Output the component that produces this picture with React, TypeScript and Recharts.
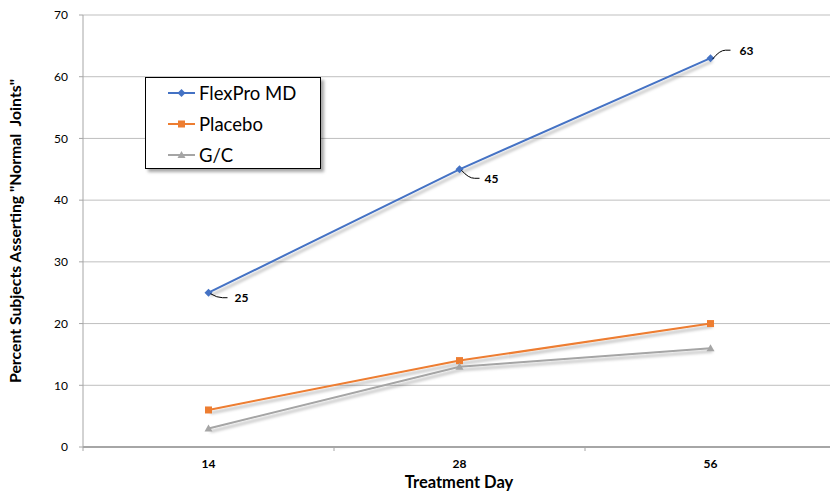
import { LineChart, Line, XAxis, YAxis, CartesianGrid, LabelList } from 'recharts';

const categories = ['14', '28', '56'];
const flexPro = [25, 45, 63];
const placebo = [6, 14, 20];
const gc = [3, 13, 16];
const yTicks = [0, 10, 20, 30, 40, 50, 60, 70];

const seriesNames = ['FlexPro MD', 'Placebo', 'G/C'];
const seriesColors = ['#4472C4', '#ED7D31', '#A5A5A5'];
const seriesShapes = ['diamond', 'square', 'triangle'];

const data = categories.map((day, i) => ({
  pos: i + 0.5,
  day,
  flexPro: flexPro[i],
  placebo: placebo[i],
  gc: gc[i],
}));

const FONT = 'Lato, "Open Sans", sans-serif';

function Marker({ cx, cy, shape, color }: any) {
  if (cx == null || cy == null) return null;
  if (shape === 'diamond') {
    return <path d={`M${cx},${cy - 4} L${cx + 4},${cy} L${cx},${cy + 4} L${cx - 4},${cy} Z`} fill={color} />;
  }
  if (shape === 'square') {
    return <rect x={cx - 3.5} y={cy - 3.5} width={7} height={7} fill={color} />;
  }
  return <path d={`M${cx},${cy - 4} L${cx + 4},${cy + 3} L${cx - 4},${cy + 3} Z`} fill={color} />;
}

// leader line + label offsets for the FlexPro callouts
const callouts = [
  { lx: 14, ly: 5, tx: 26, ty: 9 },
  { lx: 15, ly: 9, tx: 25, ty: 14 },
  { lx: 15, ly: -8, tx: 29, ty: -3 },
];

function Callout(props: any) {
  const { x, y, value, index } = props;
  const c = callouts[index];
  return (
    <g>
      <path
        d={`M${x + 2},${y + 1} Q${x + c.lx * 0.6},${y + c.ly} ${x + c.lx},${y + c.ly} L${x + c.lx + 5},${y + c.ly}`}
        stroke="#000"
        strokeWidth={1}
        fill="none"
      />
      <text x={x + c.tx} y={y + c.ty} fontFamily={FONT} fontSize={12} fontWeight={700} fill="#000">
        {value}
      </text>
    </g>
  );
}

function XTick(props: any) {
  const { x, payload } = props;
  const v = payload.value;
  const axisY = 447;
  if (Number.isInteger(v)) {
    return <line x1={x} y1={axisY} x2={x} y2={axisY + 4} stroke="#A6A6A6" />;
  }
  return (
    <text x={x} y={axisY + 21} textAnchor="middle" fontFamily={FONT} fontSize={12} fontWeight={700} fill="#000">
      {categories[Math.floor(v)]}
    </text>
  );
}

function YTitle(props: any) {
  const vb = props.viewBox || {};
  const cx = 21;
  const cy = (vb.y || 15) + (vb.height || 432) / 2;
  return (
    <text
      x={cx}
      y={cy}
      transform={`rotate(-90, ${cx}, ${cy})`}
      textAnchor="middle"
      fontFamily={FONT}
      fontSize={15.8}
      fontWeight={700}
      fill="#000"
    >
      Percent Subjects Asserting "Normal&nbsp; Joints"
    </text>
  );
}

function XTitle() {
  return (
    <text x={459} y={488} textAnchor="middle" fontFamily={FONT} fontSize={16.5} fontWeight={700} fill="#000">
      Treatment Day
    </text>
  );
}

function LegendBox() {
  return (
    <div
      style={{
        position: 'absolute',
        left: 145,
        top: 77,
        width: 176,
        height: 92,
        border: '1px solid #000',
        background: '#fff',
        boxShadow: '3px 3px 3px rgba(0,0,0,0.35)',
        fontFamily: FONT,
        fontSize: 18.5,
        color: '#000',
        boxSizing: 'border-box',
      }}
    >
      {seriesNames.map((name, i) => (
        <div key={name} style={{ position: 'absolute', left: 22, top: 3 + i * 31, height: 24, display: 'flex', alignItems: 'center' }}>
          <svg width={28} height={12} style={{ marginRight: 3 }}>
            <line x1={0} y1={6} x2={27} y2={6} stroke={seriesColors[i]} strokeWidth={2} />
            <Marker cx={13.5} cy={6} shape={seriesShapes[i]} color={seriesColors[i]} />
          </svg>
          <span>{name}</span>
        </div>
      ))}
    </div>
  );
}

export default function App() {
  const keys = ['flexPro', 'placebo', 'gc'];
  return (
    <div style={{ position: 'relative', width: 830, height: 492, overflow: 'hidden', background: '#fff' }}>
      <style>{'body{margin:0}'}</style>
      <LineChart width={840} height={492} data={data} margin={{ top: 15, right: 4, left: 0, bottom: 0 }}>
        <defs>
          <filter id="shadow" x="-10%" y="-10%" width="120%" height="130%">
            <feDropShadow dx={2} dy={3} stdDeviation={1.5} floodColor="#000" floodOpacity={0.3} />
          </filter>
        </defs>
        <CartesianGrid vertical={false} stroke="#BFBFBF" />
        <XAxis
          dataKey="pos"
          type="number"
          domain={[0, 3]}
          ticks={[0, 0.5, 1, 1.5, 2, 2.5, 3]}
          interval={0}
          tick={<XTick />}
          tickLine={false}
          axisLine={{ stroke: '#A6A6A6', strokeWidth: 2 }}
          height={45}
          label={<XTitle />}
        />
        <YAxis
          domain={[0, 70]}
          ticks={yTicks}
          width={83}
          tickSize={4}
          tickMargin={11}
          tick={{ fontFamily: FONT, fontSize: 12, fill: '#000' }}
          tickLine={{ stroke: '#A6A6A6' }}
          axisLine={{ stroke: '#A6A6A6' }}
          label={<YTitle />}
        />
        {keys.map((k, i) => (
          <Line
            key={k}
            dataKey={k}
            name={seriesNames[i]}
            type="linear"
            stroke={seriesColors[i]}
            strokeWidth={2}
            filter="url(#shadow)"
            dot={(p: any) => <Marker key={`${k}-${p.index}`} cx={p.cx} cy={p.cy} shape={seriesShapes[i]} color={seriesColors[i]} />}
            activeDot={false}
            isAnimationActive={false}
          >
            {k === 'flexPro' && <LabelList dataKey="flexPro" content={<Callout />} />}
          </Line>
        ))}
      </LineChart>
      <LegendBox />
    </div>
  );
}
